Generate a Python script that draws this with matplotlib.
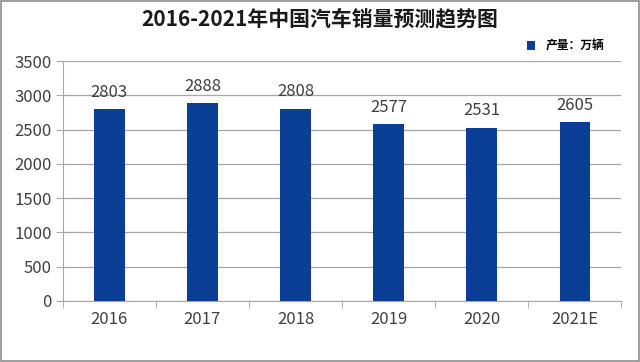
import matplotlib
matplotlib.use("Agg")
from matplotlib import pyplot as plt
from matplotlib.patches import Rectangle
import numpy as np

years = ["2016", "2017", "2018", "2019", "2020", "2021E"]
sales = [2803, 2888, 2808, 2577, 2531, 2605]
y_ticks = [0, 500, 1000, 1500, 2000, 2500, 3000, 3500]

plt.rcParams['font.family'] = ['Noto Sans CJK SC', 'DejaVu Sans']

BAR_COLOR = "#0b3f96"
GRID_COLOR = "#a6a6a6"
TEXT_COLOR = "#404040"


def main():
    fig = plt.figure(figsize=(6.4, 3.62), dpi=100)
    ax = fig.add_axes([0.098, 0.169, 0.873, 0.662])

    x = np.arange(len(years))
    ax.bar(x, sales, width=0.33, color=BAR_COLOR, zorder=3, label="产量：万辆")
    for xi, v in zip(x, sales):
        ax.text(xi, v + 120, str(v), ha="center", va="bottom",
                fontsize=12, color=TEXT_COLOR)

    ax.set_xlim(-0.5, len(years) - 0.5)
    ax.set_ylim(0, 3500)
    ax.set_yticks(y_ticks)
    ax.tick_params(axis="y", labelsize=12, colors=TEXT_COLOR, length=5,
                   color=GRID_COLOR, pad=3)
    ax.yaxis.grid(True, color=GRID_COLOR, linewidth=0.9, zorder=0)

    # category labels centred, tick marks between categories
    ax.set_xticks(x)
    ax.set_xticklabels(years, fontsize=12, color=TEXT_COLOR)
    ax.tick_params(axis="x", length=0, pad=7)
    ax.set_xticks(np.arange(len(years) + 1) - 0.5, minor=True)
    ax.tick_params(axis="x", which="minor", length=5, color=GRID_COLOR)

    for side in ["top", "right"]:
        ax.spines[side].set_visible(False)
    for side in ["left", "bottom"]:
        ax.spines[side].set_color(GRID_COLOR)

    fig.text(0.5, 0.947, "2016-2021年中国汽车销量预测趋势图", ha="center", va="center",
             fontsize=15, fontweight="bold", color="#1a1a1a")

    ax.legend(loc="lower right", bbox_to_anchor=(0.985, 1.0), frameon=False,
              handlelength=0.75, handleheight=0.75, handletextpad=0.9,
              prop={"size": 8.5, "weight": "bold"}, borderaxespad=0.3)

    # grey frame round the picture
    fig.patches.append(Rectangle((0.002, 0.003), 0.996, 0.994, transform=fig.transFigure,
                                 fill=False, edgecolor="#8c8c8c", linewidth=1.2))

    fig.savefig("out.png", dpi=100)


if __name__ == '__main__':
    main()
